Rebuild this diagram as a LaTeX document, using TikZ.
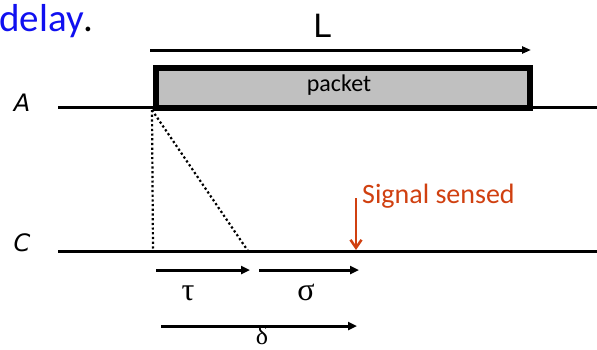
\documentclass[tikz,border=0pt]{standalone}
\usepackage{fontspec}
\setmainfont{Carlito}
\newfontfamily\greekfont{Liberation Serif}
\newfontfamily\handfont{DejaVu Sans}
\usetikzlibrary{arrows.meta}
\definecolor{sigred}{RGB}{208,64,16}
\definecolor{titleblue}{RGB}{16,16,240}
\definecolor{pktgray}{RGB}{192,192,192}
\begin{document}
\begin{tikzpicture}[x=1pt,y=-1pt,
  tl/.style={line width=3pt},
  dotl/.style={line width=2.2pt, dash pattern=on 2.2pt off 2.5pt},
  arr/.style={line width=3pt,-{Triangle[length=9pt,width=8pt]}},
  lbl/.style={inner sep=0pt, anchor=base}]
\useasboundingbox (0,0) rectangle (597,349);
% title
\node[lbl, anchor=base west] (title) at (-1,31) {\fontsize{39}{40}\selectfont\textcolor{titleblue}{delay}.};
% time lines
\coordinate (a0) at (58,107); \coordinate (a1) at (597,107);
\coordinate (c0) at (58,251); \coordinate (c1) at (597,251);
\draw[tl] (a0) -- (a1);
\draw[tl] (c0) -- (c1);
\node[lbl] (A) at (22,111) {\handfont\itshape\fontsize{24}{26}\selectfont A};
\node[lbl] (C) at (22,251) {\handfont\itshape\fontsize{24}{26}\selectfont C};
% packet
\node[draw, line width=6pt, fill=pktgray, minimum width=374pt, minimum height=40pt, inner sep=0pt, anchor=north west] (pkt) at (153,65) {};
\node[lbl] (pktlbl) at (339,91) {\fontsize{24}{26}\selectfont packet};
% L arrow
\coordinate (l0) at (150,50); \coordinate (l1) at (531,50);
\draw[line width=3pt,-{Triangle[length=9pt,width=7pt]}] (l0) -- (l1);
\node[lbl] (L) at (322,37) {\handfont\fontsize{32}{34}\selectfont L};
% dotted lines
\coordinate (d0) at (152,110); \coordinate (d1) at (153,250);
\coordinate (e1) at (248,251);
\draw[dotl] (d0) -- (d1);
\draw[dotl] (d0) -- (e1);
% signal sensed
\coordinate (s0) at (356,198); \coordinate (s1) at (356,250);
\draw[sigred, line width=2.5pt, -{Straight Barb[length=8pt,width=11pt]}] (s0) -- (s1);
\node[lbl, anchor=base west] (sig) at (362,203) {\color{sigred}\fontsize{28}{30}\selectfont Signal sensed};
% tau, sigma, delta arrows
\coordinate (t0) at (156,270); \coordinate (t1) at (250,270);
\coordinate (g0) at (259,270); \coordinate (g1) at (359,270);
\coordinate (h0) at (161,326); \coordinate (h1) at (357,326);
\draw[arr] (t0) -- (t1);
\draw[arr] (g0) -- (g1);
\draw[arr] (h0) -- (h1);
\node[lbl] (tau) at (188,300) {\greekfont\fontsize{32}{34}\selectfont τ};
\node[lbl] (sigma) at (306,300) {\greekfont\fontsize{32}{34}\selectfont σ};
\node[lbl] (delta) at (262,344) {\greekfont\fontsize{26}{28}\selectfont δ};
\end{tikzpicture}
\end{document}
